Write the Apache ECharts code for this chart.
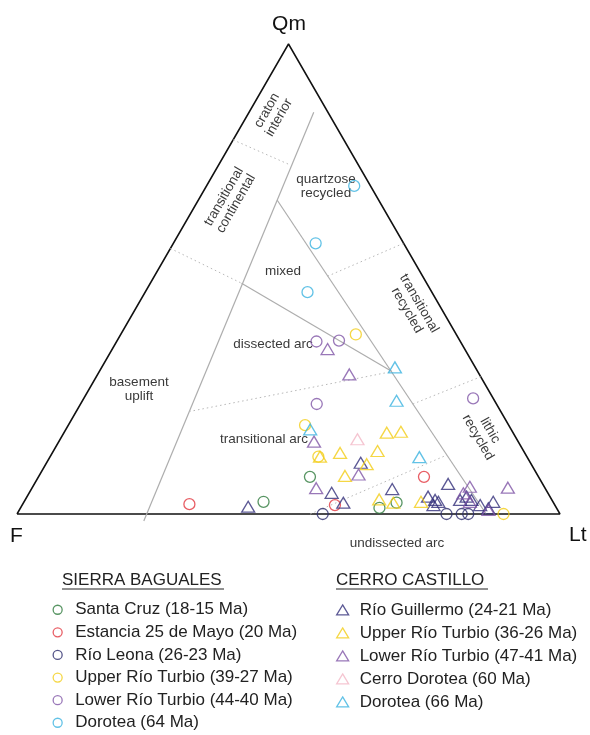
<!DOCTYPE html>
<html>
<head>
<meta charset="utf-8">
<style>
  html, body { margin: 0; padding: 0; background: #fff; }
  #chart { width: 590px; height: 735px; }
</style>
<script src="https://cdn.jsdelivr.net/npm/echarts@6/dist/echarts.min.js"></script>
</head>
<body>
<div id="chart"></div>
<script>
// every composition is [Qm, F, Lt] in percent
const frame = [[0, 100, 0], [0, 0, 100], [100, 0, 0], [0, 100, 0]];

const solidLines = [
  [[85.5, 2.6, 11.9], [-1.5, 77.4, 24.1]],
  [[66.8, 18.7, 14.5], [0, 13.6, 86.4]],
  [[49.1, 34.1, 16.8], [30.3, 15.8, 53.9]],
];
const dottedLines = [
  [[79.6, 20.4, 0], [74.3, 12.6, 13.1]],
  [[56.5, 43.5, 0], [49.1, 34.1, 16.8]],
  [[50.6, 17.5, 31.9], [57.6, 0, 42.4]],
  [[21.8, 57.4, 20.8], [30.3, 15.8, 53.9]],
  [[23.4, 15.4, 61.2], [29.2, 0, 70.8]],
  [[0, 46, 54], [12.55, 14.55, 72.9]],
];

// Sierra Baguales (circles)
const sbSantaCruz = [[2.6, 53.3, 44.1], [7.9, 42.1, 50.0], [1.3, 32.6, 66.1], [2.4, 28.9, 68.7]];
const sbEstancia = [[2.1, 67.2, 30.7], [1.9, 40.5, 57.6], [7.9, 21.1, 71.0]];
const sbRioLeona = [[0, 43.7, 56.3], [0, 20.9, 79.1], [0, 18.1, 81.9], [0, 16.9, 83.1]];
const sbUpperRT = [[38.2, 18.5, 43.3], [18.9, 37.5, 43.6], [12.2, 38.4, 49.4], [0, 10.4, 89.6]];
const sbLowerRT = [[36.7, 26.5, 36.8], [36.9, 22.25, 40.85], [23.4, 33.1, 43.5], [24.6, 3.7, 71.7]];
const sbDorotea = [[69.8, 3.0, 27.2], [57.6, 16.2, 26.2], [47.2, 22.9, 29.9]];

// Cerro Castillo (triangles)
const ccRioGuillermo = [
  [1.55, 56.65, 41.8], [10.9, 31.25, 57.85], [4.5, 39.8, 55.7], [2.4, 38.7, 58.9],
  [5.3, 28.25, 66.45], [3.7, 22.45, 73.85], [3.0, 21.5, 75.5], [2.6, 21.1, 76.3],
  [1.9, 22.35, 75.75], [6.4, 17.4, 76.2], [3.0, 16.9, 80.1], [3.7, 15.35, 80.95],
  [3.0, 14.8, 82.2], [1.9, 13.75, 84.35], [2.6, 11.0, 86.4], [1.2, 12.6, 86.2],
];
const ccUpperRT = [
  [17.3, 23.25, 59.45], [17.5, 20.55, 61.95], [12.2, 38.1, 49.7], [13.0, 34.0, 53.0],
  [13.4, 26.9, 59.7], [10.6, 30.3, 59.1], [8.1, 35.55, 56.35], [3.1, 31.75, 65.15],
  [2.4, 29.5, 68.1], [2.6, 24.3, 73.1],
];
const ccLowerRT = [
  [35.1, 25.25, 39.65], [29.7, 23.95, 46.35], [15.4, 37.6, 47.0], [8.4, 32.9, 58.7],
  [5.5, 42.15, 52.35], [5.8, 13.7, 80.5], [5.6, 6.8, 87.6], [4.4, 15.6, 80.0],
  [0.85, 12.75, 86.4], [2.6, 15.3, 82.1],
];
const ccCerroDorotea = [[15.9, 29.35, 54.75]];
const ccDorotea = [[31.2, 14.8, 54.0], [24.1, 18.05, 57.85], [18.0, 37.0, 45.0], [12.1, 19.85, 68.05]];

const sbNames = [
  "Santa Cruz (18-15 Ma)", "Estancia 25 de Mayo (20 Ma)", "Río Leona (26-23 Ma)",
  "Upper Río Turbio (39-27 Ma)", "Lower Río Turbio (44-40 Ma)", "Dorotea (64 Ma)",
];
const ccNames = [
  "Río Guillermo (24-21 Ma)", "Upper Río Turbio (36-26 Ma)", "Lower Río Turbio (47-41 Ma)",
  "Cerro Dorotea (60 Ma)", "Dorotea (66 Ma)",
];

const sbColors = ["#2e7b3c", "#e2363f", "#2b2b6b", "#f3cd17", "#7f55a6", "#3bb3e0"];
const ccColors = ["#33307a", "#f3cd17", "#7f55a6", "#f2b6c6", "#3bb3e0"];

const FONT = "'Liberation Sans', Arial, Helvetica, sans-serif";
const H = Math.sqrt(3) / 2;

const toXY = (c) => {
  const s = c[0] + c[1] + c[2];
  const q = (c[0] / s) * 100;
  const l = (c[2] / s) * 100;
  return [l + q / 2, q * H];
};

const lineSeries = (pts, style) => ({
  type: "line",
  data: pts.map(toXY),
  symbol: "none",
  silent: true,
  clip: false,
  z: 1,
  lineStyle: style,
});

const chart = echarts.init(document.getElementById("chart"));

let series = [];
series.push(lineSeries(frame, { color: "#111", width: 1.5 }));
solidLines.forEach((ln) => series.push(lineSeries(ln, { color: "#adadad", width: 1.2 })));
dottedLines.forEach((ln) =>
  series.push(lineSeries(ln, { color: "#b8b8b8", width: 1, type: [1.5, 3] }))
);

const sbData = [sbSantaCruz, sbEstancia, sbRioLeona, sbUpperRT, sbLowerRT, sbDorotea];
const ccData = [ccRioGuillermo, ccUpperRT, ccLowerRT, ccCerroDorotea, ccDorotea];

const marker = (name, data, color, symbol, size) => ({
  name,
  type: "scatter",
  data: data.map(toXY),
  symbol,
  symbolSize: size,
  clip: false,
  z: 3,
  itemStyle: { color: "rgba(0,0,0,0)", borderColor: color, borderWidth: 1.3 },
});

sbNames.forEach((n, i) => series.push(marker(n, sbData[i], sbColors[i], "circle", 11)));
ccNames.forEach((n, i) => series.push(marker(n, ccData[i], ccColors[i], "triangle", [13, 11])));

const legendItems = (names, colors, icon) =>
  names.map((n, i) => ({
    name: n,
    icon,
    itemStyle: { color: "rgba(0,0,0,0)", borderColor: colors[i], borderWidth: 1.3 },
  }));

const fieldLabel = (text, x, y, rot) => ({
  type: "text",
  x,
  y,
  rotation: rot || 0,
  silent: true,
  style: {
    text,
    font: "13.5px " + FONT,
    fill: "#3a3a3a",
    textAlign: "center",
    textVerticalAlign: "middle",
    lineHeight: 14,
  },
});

const bigLabel = (text, x, y, align) => ({
  type: "text",
  x,
  y,
  silent: true,
  style: { text, font: "21px " + FONT, fill: "#111", textAlign: align, textVerticalAlign: "middle" },
});

const header = (text, x, y, w) => [
  {
    type: "text",
    x,
    y,
    silent: true,
    style: { text, font: "17px " + FONT, fill: "#222", textAlign: "left", textVerticalAlign: "middle" },
  },
  {
    type: "line",
    silent: true,
    shape: { x1: x, y1: y + 9, x2: x + w, y2: y + 9 },
    style: { stroke: "#222", lineWidth: 1 },
  },
];

let option = {
  animation: false,
  backgroundColor: "#fff",
  grid: { left: 17, top: 44, width: 543, height: 470 },
  xAxis: { type: "value", min: 0, max: 100, show: false },
  yAxis: { type: "value", min: 0, max: 100 * H, show: false },
  legend: [
    {
      data: legendItems(sbNames, sbColors, "circle"),
      orient: "vertical",
      left: 52.5,
      top: 599,
      padding: 0,
      itemWidth: 9,
      itemHeight: 9,
      itemGap: 1.1,
      selectedMode: false,
      textStyle: { fontSize: 17, color: "#222", fontFamily: FONT, lineHeight: 21.5, padding: [0, 0, 0, 8] },
    },
    {
      data: legendItems(ccNames, ccColors, "triangle"),
      orient: "vertical",
      left: 336,
      top: 599,
      padding: 0,
      itemWidth: 12,
      itemHeight: 10,
      itemGap: 1.2,
      selectedMode: false,
      textStyle: { fontSize: 17, color: "#222", fontFamily: FONT, lineHeight: 21.8, padding: [0, 0, 0, 6] },
    },
  ],
  graphic: [
    bigLabel("Qm", 289, 24, "center"),
    bigLabel("F", 10, 536, "left"),
    bigLabel("Lt", 569, 535, "left"),
    fieldLabel("craton\ninterior", 273, 114, Math.PI / 3),
    fieldLabel("transitional\ncontinental", 230, 200, Math.PI / 3),
    fieldLabel("quartzose\nrecycled", 326, 186),
    fieldLabel("mixed", 283, 271),
    fieldLabel("transitional\nrecycled", 413, 307, -Math.PI / 3),
    fieldLabel("dissected arc", 273, 344),
    fieldLabel("basement\nuplift", 139, 389),
    fieldLabel("transitional arc", 264, 439),
    fieldLabel("lithic\nrecycled", 484, 434, -Math.PI / 3),
    fieldLabel("undissected arc", 397, 543),
    ...header("SIERRA BAGUALES", 62, 580, 162),
    ...header("CERRO CASTILLO", 336, 580, 152),
  ],
  series,
};

chart.setOption(option);
</script>
</body>
</html>
